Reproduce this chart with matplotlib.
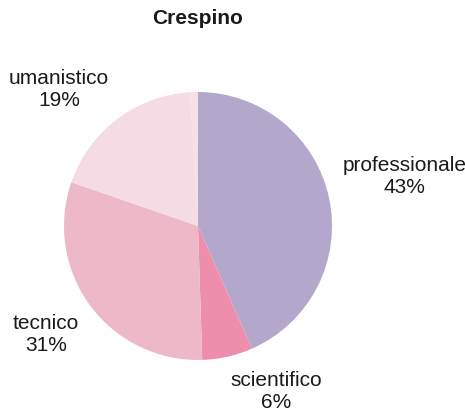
import numpy as np
import matplotlib.pyplot as plt

plt.rcParams['font.family'] = ['Liberation Sans', 'DejaVu Sans']

# --- Data (clockwise from 12 o'clock) ---
categories = ['professionale', 'scientifico', 'tecnico', 'umanistico', '']
values     = [43.4, 6.1, 30.8, 18.75, 0.95]
shown_pct  = ['43%', '6%', '31%', '19%', '']
colours    = ['#b3a8cc', '#ee8dac', '#edb9c8', '#f5dbe3', '#f6dfe6']

labels = [f'{c}\n{p}' if c else '' for c, p in zip(categories, shown_pct)]

# --- Layout ---
W, H = 465, 414
fig = plt.figure(figsize=(W / 100, H / 100), dpi=100, facecolor='white')
cx, cy, r = 198, 227, 134
ax = fig.add_axes([(cx - r) / W, (H - cy - r) / H, 2 * r / W, 2 * r / H])

wedges, texts = ax.pie(values, labels=labels, colors=colours, startangle=90,
                       counterclock=False, labeldistance=1.1,
                       wedgeprops=dict(linewidth=0),
                       textprops=dict(fontsize=15, color='#1a1a1a'))
ax.set_xlim(-1, 1)
ax.set_ylim(-1, 1)
ax.axis('off')

# anchor the label corner nearest the pie, like the office-suite layout
for t in texts:
    x, y = t.get_position()
    t.set_ha('left' if x >= 0 else 'right')
    t.set_va('bottom' if y >= 0 else 'top')
    t.set_multialignment('center')

fig.text(cx / W, 1 - 18 / H, 'Crespino', ha='center', va='center',
         fontsize=15, fontweight='bold', color='#1a1a1a')

fig.savefig('out.png', dpi=100, facecolor='white')
plt.close(fig)
